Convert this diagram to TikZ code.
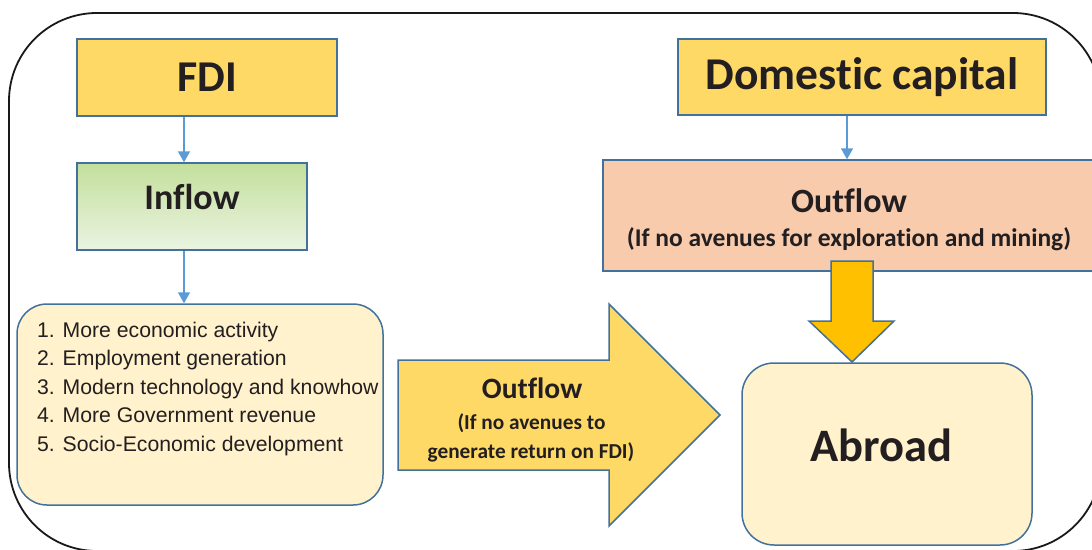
\documentclass[tikz,border=0pt]{standalone}
\usepackage{fontspec}
\setmainfont{Carlito}[Ligatures={NoCommon}]
\newfontfamily\listfont{Liberation Sans}
\usetikzlibrary{arrows.meta}
\definecolor{bordc}{HTML}{41719C}
\definecolor{connc}{HTML}{5B9BD5}
\definecolor{goldl}{HTML}{FFD966}
\definecolor{peach}{HTML}{F8CBAD}
\definecolor{creamy}{HTML}{FFF2CC}
\definecolor{golda}{HTML}{FFC000}
\definecolor{greent}{HTML}{C3DF9C}
\definecolor{greenb}{HTML}{EBF4E2}
\definecolor{txt}{HTML}{231F20}
\tikzset{
  boxst/.style={draw=bordc, line width=1.5pt, inner sep=0pt, text=txt},
  conn/.style={draw=connc, line width=1.5pt, -{Triangle[width=12pt,length=11pt]}},
  blockarrow/.style={draw=bordc, line width=1.5pt, line join=miter},
  lbl/.style={text=txt, inner sep=0pt},
  listline/.style={text=txt, inner sep=0pt, anchor=base west, font=\listfont\fontsize{21.2}{24}\selectfont},
}
\begin{document}
\begin{tikzpicture}[x=1pt,y=-1pt]
\useasboundingbox (0,0) rectangle (1092,549);
\begin{scope}
  \clip (0,0) rectangle (1092,549);
  \draw[line width=1.8pt, draw=black!90, rounded corners=88pt] (9,13) rectangle (1101,551);
  % peach outflow box (extends past the right edge)
  \node[boxst, fill=peach, minimum width=492pt, minimum height=111pt] (peachbox) at (849,215.5) {};
\end{scope}

% left column
\node[boxst, fill=goldl, minimum width=260pt, minimum height=77pt,
      font=\bfseries\fontsize{44}{50}\selectfont] (fdi) at (207,77.5) {FDI};
\node[boxst, top color=greent, bottom color=greenb, minimum width=230pt, minimum height=87pt] (inflow) at (192,206.5) {};
\node[lbl, font=\bfseries\fontsize{36}{40}\selectfont] (inflowtext) at (192,197) {Inflow};
\node[boxst, fill=creamy, rounded corners=30pt, minimum width=366pt, minimum height=201pt] (list) at (200,404.5) {};
\node[listline] (l1) at (37,337) {1. More economic activity};
\node[listline] (l2) at (37,365.5) {2. Employment generation};
\node[listline] (l3) at (37,394) {3. Modern technology and knowhow};
\node[listline] (l4) at (37,422.5) {4. More Government revenue};
\node[listline] (l5) at (37,451) {5. Socio-Economic development};

\coordinate (ax) at (184,0);
\draw[conn] (fdi.south -| ax) -- (inflow.north -| ax);
\draw[conn] (inflow.south -| ax) -- (list.north -| ax);

% right column
\node[boxst, fill=goldl, minimum width=368pt, minimum height=76pt,
      font=\bfseries\fontsize{45.5}{50}\selectfont] (dom) at (862,77) {Domestic capital};
\node[lbl, font=\bfseries\fontsize{34}{38}\selectfont] (outtitle) at (849,201) {Outflow};
\node[lbl, font=\bfseries\fontsize{25.5}{30}\selectfont] (outsub) at (849,239) {(If no avenues for exploration and mining)};
\coordinate (bx) at (847,0);
\draw[conn] (dom.south -| bx) -- (peachbox.north -| bx);

% gold down arrow
\draw[blockarrow, fill=golda] (831,261) -- (873,261) -- (873,321) -- (894,321) -- (852,362) -- (809,321) -- (831,321) -- cycle;

% abroad
\node[boxst, fill=creamy, rounded corners=32pt, minimum width=290pt, minimum height=182pt] (abroad) at (887,454) {};
\node[lbl, font=\bfseries\fontsize{46.5}{50}\selectfont] (abroadtext) at (881,445) {Abroad};

% big right arrow
\draw[blockarrow, fill=goldl] (398,360) -- (609,360) -- (609,304) -- (720,415) -- (609,526) -- (609,470) -- (398,470) -- cycle;
\node[lbl, font=\bfseries\fontsize{29.5}{34}\selectfont] (bigout) at (532,388) {Outflow};
\node[lbl, font=\bfseries\fontsize{21.3}{26}\selectfont] (bigsub1) at (531.5,423) {(If no avenues to};
\node[lbl, font=\bfseries\fontsize{21.3}{26}\selectfont] (bigsub2) at (531,452) {generate return on FDI)};
\end{tikzpicture}
\end{document}
